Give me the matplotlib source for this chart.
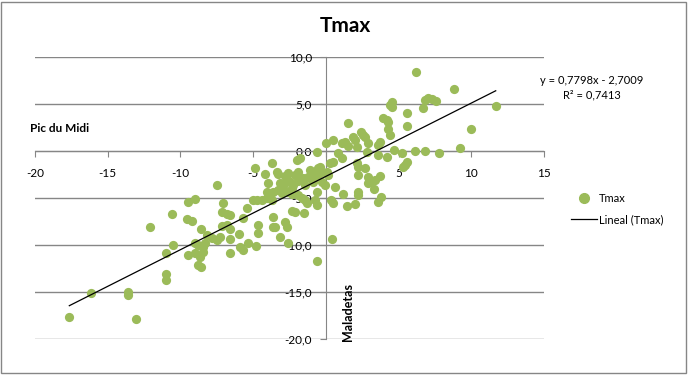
import matplotlib
matplotlib.use("Agg")
import matplotlib.pyplot as plt
import numpy as np
from matplotlib.lines import Line2D
from matplotlib.patches import Rectangle

plt.rcParams['font.family'] = ['Lato', 'DejaVu Sans']

# Pic du Midi (x) vs Maladetas (y), Tmax
pic_du_midi = [
    -17.64, -16.12, -13.59, -13.59, -13.04, -12.06, -11.0, -11.0, -11.0, -10.56, -10.51,
    -9.46, -9.0, -9.57, -9.23, -8.61, -9.46, -9.0, -8.66, -8.43, -8.77, -8.59,
    -9.0, -8.77, -8.43, -8.31, -8.20, -7.85, -7.51, -7.28, -7.51, -7.05, -7.17,
    -6.82, -6.59, -7.17, -6.82, -6.59, -6.59, -6.59, -5.95, -5.91, -5.70, -5.68,
    -5.45, -5.34,
    -4.99, -4.72, -4.41, -4.07, -3.73, -4.88, -4.81, -4.65, -4.65, -4.19, -4.07,
    -3.96, -3.73, -3.62, -3.66, -3.50, -3.62, -3.38, -3.31, -3.27, -3.16, -2.93,
    -3.04, -3.16, -2.81, -2.70, -2.81, -2.67, -2.59, -2.59, -2.59, -2.47, -2.35,
    -2.35, -2.35, -2.24, -2.12, -2.12, -2.01, -1.90, -1.90, -1.90,
    -1.66, -1.55, -1.44, -1.44, -1.32, -1.51, -1.21, -1.09, -0.98, -0.87, -0.63,
    -0.52, -0.41, -0.63, -0.63, -0.75, -0.63, -0.58, -0.29, -0.06, 0.05, 0.17,
    0.01, 0.28, 0.51, 0.51, 0.63, 0.33, 0.47, 0.44, 0.85, 1.09, 1.13, 1.16,
    1.31, 1.43, -1.78, -0.41, -0.52,
    1.54, 1.54, 1.84, 2.0, 2.12, 2.0, 2.12, 2.23, 2.23, 2.23, 2.23, 2.41, 2.57,
    2.69, 2.69, 2.81, 2.92, 2.92, 3.03, 2.92, 3.31, 3.38, 3.56, 3.60, 3.72,
    3.72, 3.56, 3.79, 3.95, 4.18, 4.29, 4.22, 4.29, 4.41, 4.52, 4.41, 4.52, 4.70,
    5.25, 5.32, 5.44, 5.56, 5.56, 5.60, 6.13, 6.20, 6.70, 6.81, 7.04, 7.27,
    7.57, 6.84, 7.80, 8.81, 9.24, 10.0, 11.68,
]
maladetas = [
    -17.69, -15.14, -15.03, -15.30, -17.90, -8.12, -10.80, -13.12, -13.72, -6.73, -10.0,
    -5.39, -5.14, -7.27, -7.41, -8.33, -11.06, -10.88, -11.24, -10.71, -12.18, -12.37,
    -9.76, -10.05, -10.18, -9.82, -8.94, -9.22, -9.47, -9.18, -3.62, -5.56, -6.54,
    -6.65, -6.86, -7.98, -7.87, -8.33, -9.39, -10.82, -8.86, -10.18, -10.53, -7.16,
    -6.10, -9.82,
    -5.21, -5.21, -5.21, -5.0, -5.21, -1.84, -10.11, -7.87, -8.76, -2.48, -4.33,
    -3.37, -1.24, -6.99, -8.05, -8.05, -4.33, -2.23, -2.45, -4.15, -3.44, -3.72,
    -4.50, -9.15, -2.66, -3.01, -7.52, -8.05, -2.37, -4.33, -9.76, -3.27, -3.97,
    -4.57, -6.33, -3.62, -2.55, -6.46, -1.01, -2.20, -3.16, -4.68,
    -5.03, -2.90, -3.62, -5.21, -5.56, -6.63, -2.73, -2.02, -2.45, -3.27, -0.07,
    -1.84, -2.37, -2.55, -4.33, -5.21, -5.74, -11.65, -3.27, -3.62, -2.20, -2.55,
    0.82, -1.31, -1.14, 1.17, -3.80, -5.21, -5.56, -9.39, -0.24, -0.78, 0.88, -4.61,
    0.99, -5.85, -0.78, -1.67, -2.20,
    3.01, 0.53, 1.52, 1.17, 0.46, -5.67, -1.24, -1.67, -2.55, -4.33, -4.68, 2.05, 1.70,
    1.52, -1.84, -0.07, 0.82, -2.73, -3.27, -3.44, -4.04, -3.09, -0.43, 0.64, 0.99,
    -2.66, -5.39, -4.86, 3.48, 3.30, 3.12, -0.67, 2.31, 1.70, 5.24, 4.89, 4.71, 0.11,
    -0.24, -1.67, -1.49, -1.14, 2.69, 4.01, 0.0, 8.37, 4.54, 5.43, 5.61, 5.50,
    5.32, 0.0, -0.24, 6.56, 0.29, 2.31, 4.82,
]

# trendline as printed on the chart
slope = 0.7798
intercept = -2.7009
r2 = 0.7413

x_ticks = [-20, -15, -10, -5, 0, 5, 10, 15]
y_ticks = [-20, -15, -10, -5, 0, 5, 10]
y_labels = ['-20,0', '-15,0', '-10,0', '-5,0', '0,0', '5,0', '10,0']

green = '#9BBB59'
grid_c = '#868686'

fig = plt.figure(figsize=(6.88, 3.76), dpi=100)
ax = fig.add_axes([35/688, 1-339/376, (544-35)/688, (339-57)/376])

fig.patches.append(Rectangle((1/688, 3/376), 685/688, 371/376, transform=fig.transFigure,
                             fill=False, edgecolor=grid_c, linewidth=1))

for yv in y_ticks:
    ax.axhline(yv, color=grid_c, linewidth=1, zorder=1)

ax.scatter(pic_du_midi, maladetas, s=44, color=green, linewidths=0, zorder=3)
xs = np.array([min(pic_du_midi), max(pic_du_midi)])
ax.plot(xs, slope*xs + intercept, color='black', linewidth=0.9, zorder=4)

ax.set_xlim(-20, 15)
ax.set_ylim(-20, 10)
ax.spines['left'].set_position(('data', 0))
ax.spines['bottom'].set_position(('data', 0))
ax.spines['top'].set_visible(False)
ax.spines['right'].set_visible(False)
for s in ['left', 'bottom']:
    ax.spines[s].set_color(grid_c)
    ax.spines[s].set_zorder(2)

ax.set_xticks(x_ticks)
ax.set_xticklabels([str(v) for v in x_ticks])
ax.set_yticks(y_ticks)
ax.set_yticklabels(y_labels)
ax.tick_params(axis='x', direction='out', length=4, pad=8, color=grid_c, labelsize=8.5)
ax.tick_params(axis='y', direction='out', length=4, pad=6, color=grid_c, labelsize=8.5)

fig.text(345/688, 1-26/376, 'Tmax', ha='center', va='center', fontsize=15, fontweight='bold')
fig.text(30/688, 1-129/376, 'Pic du Midi', ha='left', va='center', fontsize=8.5, fontweight='bold')
ax.text(1.55, -17.1, 'Maladetas', rotation=90, ha='center', va='center', fontsize=9, fontweight='bold')

eq = 'y = {:.4f}x - {:.4f}'.format(slope, abs(intercept)).replace('.', ',')
fig.text(592/688, 1-80/376, eq, ha='center', va='center', fontsize=8)
fig.text(592/688, 1-95/376, 'R\u00b2 = {:.4f}'.format(r2).replace('.', ','), ha='center', va='center', fontsize=8)

handles = [Line2D([], [], marker='o', color=green, linestyle='none', markersize=7),
           Line2D([], [], color='black', linewidth=0.9)]
fig.legend(handles, ['Tmax', 'Lineal (Tmax)'], loc='center left',
           bbox_to_anchor=(571/688, 1-209/376), frameon=False, fontsize=8,
           handlelength=2.3, handletextpad=0.25, labelspacing=0.9,
           borderpad=0, borderaxespad=0)

fig.savefig('out.png', dpi=100)
